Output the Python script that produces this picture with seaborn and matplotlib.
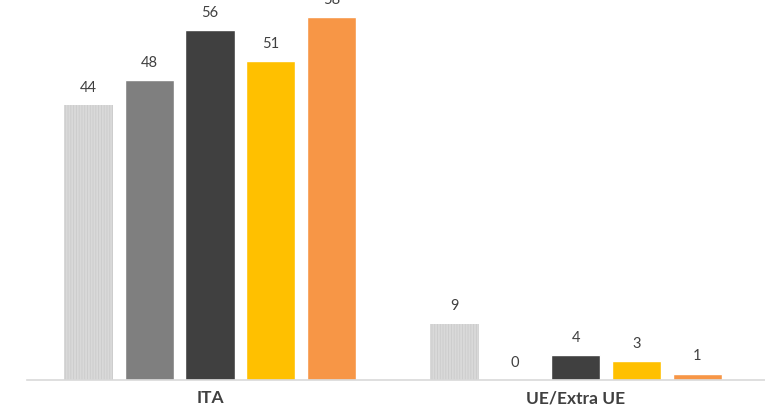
import matplotlib
matplotlib.use("Agg")
import matplotlib.pyplot as plt
import pandas as pd
import seaborn as sns

# data
groups = ["ITA", "UE/Extra UE"]
series = ["S1", "S2", "S3", "S4", "S5"]
ita_values = [44, 48, 56, 51, 58]
ue_values = [9, 0, 4, 3, 1]
colors = ["#d9d9d9", "#7f7f7f", "#404040", "#ffc000", "#f79646"]

rows = []
for s, a, b in zip(series, ita_values, ue_values):
    rows.append({"group": groups[0], "series": s, "value": a})
    rows.append({"group": groups[1], "series": s, "value": b})
df = pd.DataFrame(rows)

sns.set_theme(style="white")
plt.rcParams["font.family"] = ["Lato", "DejaVu Sans"]
plt.rcParams["hatch.linewidth"] = 0.6

fig = plt.figure(figsize=(7.65, 4.11), dpi=100)
ax = fig.add_axes([27 / 765, 31 / 411, 1 - 27 / 765, 380 / 411])

sns.barplot(data=df, x="group", y="value", hue="series", order=groups,
            hue_order=series, palette=colors, width=0.83, gap=0.19,
            saturation=1, legend=False, ax=ax)

# first series has a fine hatched fill
for patch in ax.containers[0]:
    patch.set_hatch("||||||")
    patch.set_edgecolor("#cbcbcb")
    patch.set_linewidth(0)

for cont in ax.containers:
    ax.bar_label(cont, padding=7.5, fontsize=10.5, color="#404040",
                 clip_on=False)

ax.set_xlim(-0.5, 1.517)
ax.set_ylim(0, 60.8)
ax.set_xlabel("")
ax.set_ylabel("")
ax.set_yticks([])
for side in ["left", "right", "top"]:
    ax.spines[side].set_visible(False)
ax.spines["bottom"].set_color("#d9d9d9")
ax.spines["bottom"].set_linewidth(1.2)
ax.tick_params(axis="x", length=0, pad=7.5, labelsize=12.5,
               labelcolor="#404040")
for lbl in ax.get_xticklabels():
    lbl.set_fontweight("bold")

fig.savefig("out.png", dpi=100)
